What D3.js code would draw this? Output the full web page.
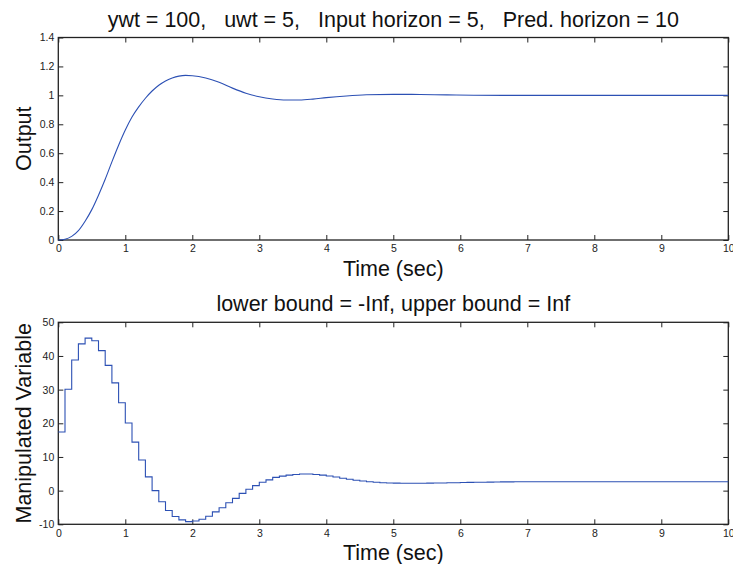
<!DOCTYPE html>
<html>
<head>
<meta charset="utf-8">
<script src="https://cdn.jsdelivr.net/npm/d3@7"></script>
<style>
  body { margin: 0; background: #fff; }
  svg { font-family: "Liberation Sans", Arial, sans-serif; }
  .tick text { font-size: 10.5px; fill: #222; }
  .tick line { stroke: #222; }
</style>
</head>
<body>
<svg id="chart" width="733" height="564"></svg>
<script>
// titolo e etichette
var title_top = 'ywt = 100,   uwt = 5,   Input horizon = 5,   Pred. horizon = 10';
var title_bottom = 'lower bound = -Inf, upper bound = Inf';
var xlabel = 'Time (sec)';
var ylabel_top = 'Output';
var ylabel_bottom = 'Manipulated Variable';

var x_ticks = [0, 1, 2, 3, 4, 5, 6, 7, 8, 9, 10];
var y_ticks_top = [0, 0.2, 0.4, 0.6, 0.8, 1, 1.2, 1.4];
var y_ticks_bottom = [-10, 0, 10, 20, 30, 40, 50];

// uscita
var out_t = [0, 0.1, 0.2, 0.3, 0.4, 0.5, 0.6, 0.7, 0.8, 0.9,
	1.0, 1.1, 1.2, 1.3, 1.4, 1.5, 1.6, 1.7, 1.8, 1.9,
	2.0, 2.2, 2.4, 2.6, 2.8, 3.0, 3.2, 3.4, 3.6, 3.8,
	4.0, 4.3, 4.6, 5.0, 5.4, 5.8, 6.2, 7.0, 10];
var out_y = [0, 0.005, 0.025, 0.065, 0.13, 0.21, 0.31, 0.42, 0.54, 0.655,
	0.76, 0.85, 0.92, 0.98, 1.03, 1.07, 1.10, 1.12, 1.133, 1.138,
	1.136, 1.12, 1.09, 1.05, 1.015, 0.99, 0.975, 0.968, 0.968, 0.974,
	0.984, 0.996, 1.004, 1.007, 1.006, 1.003, 1.001, 1.0, 1.0];

// variabile manipolata, un valore ogni 0.1 s
var mv_dt = 0.1;
var mv = [17.4, 30.1, 38.8, 43.6, 45.3, 44.5, 41.6, 37.2, 32.0, 26.1,
	20.1, 14.4, 9.1, 4.1, 0.0, -3.3, -5.9, -7.7, -8.7, -9.2,
	-9.0, -8.5, -7.6, -6.3, -5.1, -3.6, -2.3, -0.8, 0.4, 1.5,
	2.5, 3.2, 3.95, 4.3, 4.6, 4.8, 4.95, 4.95, 4.8, 4.6,
	4.35, 4.05, 3.7, 3.4, 3.1, 2.85, 2.65, 2.48, 2.36, 2.28,
	2.22, 2.2, 2.19, 2.19, 2.2, 2.22, 2.25, 2.28, 2.32, 2.36,
	2.4, 2.44, 2.48, 2.51, 2.54, 2.57, 2.59, 2.61, 2.62, 2.63,
	2.64, 2.64, 2.65, 2.65, 2.65, 2.65, 2.65, 2.65, 2.65, 2.65,
	2.65, 2.65, 2.65, 2.65, 2.65, 2.65, 2.65, 2.65, 2.65, 2.65,
	2.65, 2.65, 2.65, 2.65, 2.65, 2.65, 2.65, 2.65, 2.65, 2.65];

// -------------------------------------------------------

var svg = d3.select('#chart');
var left = 58.3, right = 728.3;
var line_color = '#2c50b4';
var label_size = '21.5px';

function draw_panel(top, bottom, y_domain, y_ticks, title, ylabel, title_y) {
	var x_conv = d3.scaleLinear().domain([0, 10]).range([left, right]);
	var y_conv = d3.scaleLinear().domain(y_domain).range([bottom, top]);

	svg.append('g')
		.attr('transform', 'translate(0,' + bottom + ')')
		.call(d3.axisBottom(x_conv).tickValues(x_ticks).tickSize(-5).tickPadding(5)
			.tickFormat(function(d) { return String(d); }));
	svg.append('g')
		.attr('transform', 'translate(0,' + top + ')')
		.call(d3.axisTop(x_conv).tickValues(x_ticks).tickSize(-5).tickFormat(''));
	svg.append('g')
		.attr('transform', 'translate(' + left + ',0)')
		.call(d3.axisLeft(y_conv).tickValues(y_ticks).tickSize(-5).tickPadding(4)
			.tickFormat(function(d) { return String(d); }));
	svg.append('g')
		.attr('transform', 'translate(' + right + ',0)')
		.call(d3.axisRight(y_conv).tickValues(y_ticks).tickSize(-5).tickFormat(''));
	svg.selectAll('.domain').remove();

	svg.append('rect')
		.attr('x', left).attr('y', top)
		.attr('width', right - left).attr('height', bottom - top)
		.attr('fill', 'none')
		.attr('stroke', '#222')
		.attr('stroke-width', 1.3);

	svg.append('text')
		.attr('x', (left + right) / 2)
		.attr('y', title_y)
		.attr('text-anchor', 'middle')
		.style('font-size', label_size)
		.style('white-space', 'pre')
		.attr('fill', '#111')
		.text(title);

	svg.append('text')
		.attr('x', (left + right) / 2)
		.attr('y', bottom + 35.5)
		.attr('text-anchor', 'middle')
		.style('font-size', label_size)
		.attr('fill', '#111')
		.text(xlabel);

	svg.append('text')
		.attr('transform', 'translate(31,' + (top + bottom) / 2 + ') rotate(-90)')
		.attr('text-anchor', 'middle')
		.style('font-size', label_size)
		.attr('fill', '#111')
		.text(ylabel);

	return {x: x_conv, y: y_conv};
}

var p1 = draw_panel(37.5, 240, [0, 1.4], y_ticks_top, title_top, ylabel_top, 27);
var p2 = draw_panel(322.3, 524.3, [-10, 50], y_ticks_bottom, title_bottom, ylabel_bottom, 311);

var out_line = d3.line()
	.x(function(d, i) { return p1.x(out_t[i]); })
	.y(function(d) { return p1.y(d); })
	.curve(d3.curveMonotoneX);

svg.append('path')
	.attr('d', out_line(out_y))
	.attr('fill', 'none')
	.attr('stroke', line_color)
	.attr('stroke-width', 1.1);

var mv_pts = mv.concat([mv[mv.length - 1]]);
var mv_line = d3.line()
	.x(function(d, i) { return p2.x(i * mv_dt); })
	.y(function(d) { return p2.y(d); })
	.curve(d3.curveStepAfter);

svg.append('path')
	.attr('d', mv_line(mv_pts))
	.attr('fill', 'none')
	.attr('stroke', line_color)
	.attr('stroke-width', 1.1);
</script>
</body>
</html>
